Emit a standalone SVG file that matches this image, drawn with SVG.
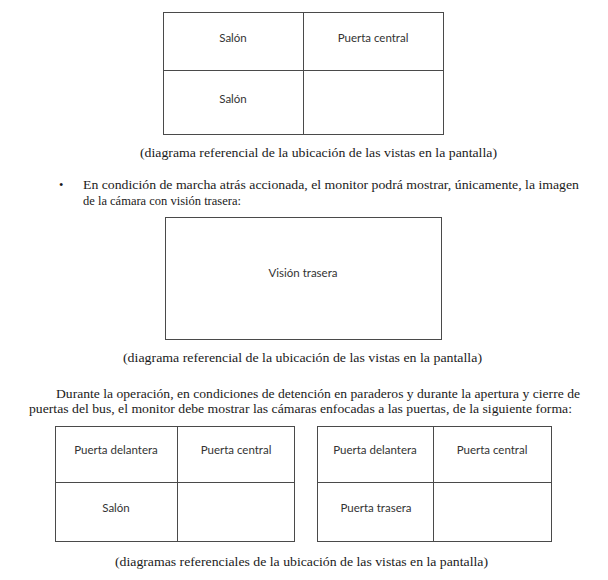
<svg xmlns="http://www.w3.org/2000/svg" width="608" height="580" viewBox="0 0 608 580">
<style>
.bg{fill:#ffffff}
.box{fill:none;stroke:#4a4a4a;stroke-width:1}
.ln{stroke:#4a4a4a;stroke-width:1}
.cell{font-family:Lato,"Liberation Sans",sans-serif;font-size:11.5px;fill:#333333;text-anchor:middle}
.body{font-family:"Liberation Serif","Times New Roman",serif;font-size:12.5px;fill:#1a1a1a}
.cap{font-family:"Liberation Serif","Times New Roman",serif;font-size:12.5px;fill:#1a1a1a}
</style>
<rect class="bg" x="0" y="0" width="608" height="580"/>

<g id="table-top">
<rect class="box" x="163.5" y="12.5" width="280" height="122"/>
<line class="ln" x1="303.5" y1="12.5" x2="303.5" y2="134.5"/>
<line class="ln" x1="163.5" y1="70.5" x2="443.5" y2="70.5"/>
<text class="cell" x="233" y="42">Salón</text>
<text class="cell" x="373" y="42">Puerta central</text>
<text class="cell" x="233" y="103">Salón</text>
</g>
<text class="cap" x="140" y="157" textLength="357" lengthAdjust="spacingAndGlyphs">(diagrama referencial de la ubicación de las vistas en la pantalla)</text>

<text class="body" x="59" y="189">•</text>
<text class="body" x="83" y="189" textLength="496" lengthAdjust="spacingAndGlyphs">En condición de marcha atrás accionada, el monitor podrá mostrar, únicamente, la imagen</text>
<text class="body" x="83" y="205">de la cámara con visión trasera:</text>

<g id="table-middle">
<rect class="box" x="165.5" y="217.5" width="276" height="122"/>
<text class="cell" x="303" y="277">Visión trasera</text>
</g>
<text class="cap" x="123" y="362" textLength="359" lengthAdjust="spacingAndGlyphs">(diagrama referencial de la ubicación de las vistas en la pantalla)</text>

<text class="body" x="56" y="398" textLength="524" lengthAdjust="spacingAndGlyphs">Durante la operación, en condiciones de detención en paraderos y durante la apertura y cierre de</text>
<text class="body" x="29" y="413" textLength="543" lengthAdjust="spacingAndGlyphs">puertas del bus, el monitor debe mostrar las cámaras enfocadas a las puertas, de la siguiente forma:</text>

<g id="table-bottom-left">
<rect class="box" x="55.5" y="426.5" width="239" height="115"/>
<line class="ln" x1="177.5" y1="426.5" x2="177.5" y2="541.5"/>
<line class="ln" x1="55.5" y1="482.5" x2="294.5" y2="482.5"/>
<text class="cell" x="116" y="454">Puerta delantera</text>
<text class="cell" x="236" y="454">Puerta central</text>
<text class="cell" x="116" y="512">Salón</text>
</g>

<g id="table-bottom-right">
<rect class="box" x="317.5" y="426.5" width="234" height="115"/>
<line class="ln" x1="433.5" y1="426.5" x2="433.5" y2="541.5"/>
<line class="ln" x1="317.5" y1="482.5" x2="551.5" y2="482.5"/>
<text class="cell" x="375" y="454">Puerta delantera</text>
<text class="cell" x="492" y="454">Puerta central</text>
<text class="cell" x="376" y="512">Puerta trasera</text>
</g>
<text class="cap" x="115" y="566" textLength="373" lengthAdjust="spacingAndGlyphs">(diagramas referenciales de la ubicación de las vistas en la pantalla)</text>
</svg>
